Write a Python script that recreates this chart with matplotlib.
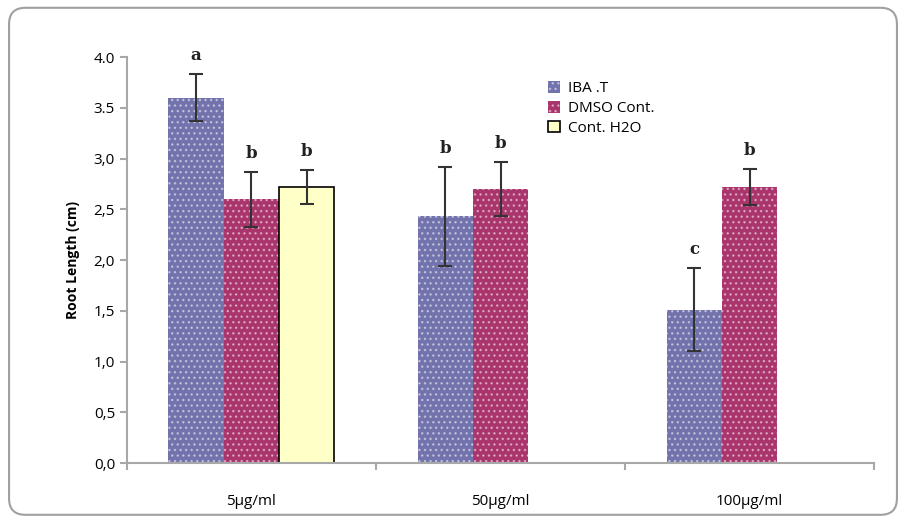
import matplotlib.pyplot as plt
import numpy as np
from matplotlib.patches import FancyBboxPatch

# data
categories = ['5µg/ml', '50µg/ml', '100µg/ml']
series = ['IBA .T', 'DMSO Cont.', 'Cont. H2O']
iba_mean = [3.60, 2.43, 1.51]
iba_err = [0.23, 0.49, 0.41]
dmso_mean = [2.60, 2.70, 2.72]
dmso_err = [0.27, 0.27, 0.18]
h2o_mean = [2.72, np.nan, np.nan]
h2o_err = [0.17, np.nan, np.nan]
iba_letters = ['a', 'b', 'c']
dmso_letters = ['b', 'b', 'b']
h2o_letters = ['b', '', '']
ytick_labels = ['0,0', '0,5', '1,0', '1,5', '2,0', '2,5', '3,0', '3.5', '4.0']

plt.rcParams['font.family'] = ['Open Sans', 'DejaVu Sans']
plt.rcParams['hatch.linewidth'] = 1.0

fig = plt.figure(figsize=(9.06, 5.2), dpi=100)
ax = fig.add_axes([0.140, 0.1096, 0.825, 0.7804])

# rounded outer frame
frame = FancyBboxPatch((0.010, 0.010), 0.980, 0.975, boxstyle='round,pad=0,rounding_size=0.018',
                       transform=fig.transFigure, facecolor='none', edgecolor='#a0a0a0',
                       linewidth=1.5, mutation_aspect=906 / 520)
fig.patches.append(frame)

x = np.arange(len(categories))
w = 0.222

groups = [
    (iba_mean, iba_err, iba_letters, '#7272ad', -w),
    (dmso_mean, dmso_err, dmso_letters, '#aa356c', 0),
    (h2o_mean, h2o_err, h2o_letters, '#ffffc8', w),
]

handles = []
for i, (mean, err, letters, color, off) in enumerate(groups):
    xs = x + off
    if i < 2:
        h = ax.bar(xs, mean, w, color=color, edgecolor=(1, 1, 1, 0.45), hatch='...',
                   linewidth=0, label=series[i], zorder=2)
    else:
        h = ax.bar(xs, mean, w, color=color, edgecolor='black', linewidth=1.2,
                   label=series[i], zorder=2)
    handles.append(h)
    ax.errorbar(xs, mean, yerr=err, fmt='none', ecolor='#333333', elinewidth=1.5,
                capsize=5, capthick=1.5, zorder=3)
    for xi, m, e, t in zip(xs, mean, err, letters):
        if t:
            ax.text(xi, m + e + 0.1, t, ha='center', va='bottom', fontsize=12,
                    fontweight='bold', family='DejaVu Serif', color='#222222')

ax.set_xlim(-0.5, 2.5)
ax.set_ylim(0, 4.0)
ax.set_yticks(np.arange(0, 4.01, 0.5))
ax.set_yticklabels(ytick_labels)
ax.set_xticks(x)
ax.set_xticklabels(categories, fontsize=11)
ax.tick_params(axis='x', length=0, pad=22)
ax.set_xticks([-0.5, 0.5, 1.5, 2.5], minor=True)
ax.tick_params(axis='x', which='minor', length=5, color='#a8a8a8', width=1.5)
ax.tick_params(axis='y', length=5, color='#a8a8a8', width=1.5, labelsize=11)

for s in ['top', 'right']:
    ax.spines[s].set_visible(False)
for s in ['left', 'bottom']:
    ax.spines[s].set_color('#a8a8a8')
    ax.spines[s].set_linewidth(1.5)

ax.set_ylabel('Root Length (cm)', fontsize=10, fontweight='bold', labelpad=10)

ax.legend(handles=handles, loc='upper left', bbox_to_anchor=(0.545, 0.975), frameon=False,
          fontsize=11, handlelength=0.8, handleheight=0.8, handletextpad=0.5,
          labelspacing=0.3)

plt.savefig('out.png', dpi=100)
